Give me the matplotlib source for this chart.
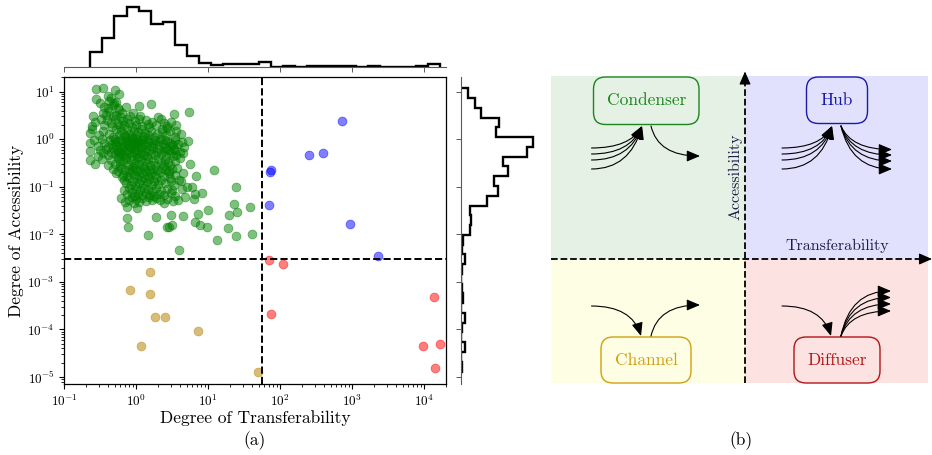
import numpy as np
import matplotlib
matplotlib.use("Agg")
import matplotlib.pyplot as plt
from matplotlib.patches import Rectangle, FancyBboxPatch, FancyArrowPatch
from matplotlib.path import Path
from matplotlib.ticker import LogLocator, NullLocator, NullFormatter

plt.rcParams["mathtext.fontset"] = "cm"
plt.rcParams["font.family"] = ["cmr10", "DejaVu Serif"]
plt.rcParams["axes.formatter.use_mathtext"] = True

# ---------------- data: (transferability, accessibility) per role ----------------
green_x = [
    0.28, 0.34, 0.51, 0.58, 0.40, 0.45,
    0.28, 0.49, 0.31, 0.36, 0.73, 1.08, 1.58, 0.42, 0.47, 0.52, 0.40, 0.55,
    0.25, 0.47, 0.63, 0.83, 1.13, 3.3, 5.4, 0.35, 0.42, 0.38, 0.57, 0.90, 2.0, 0.52, 0.62,
    0.24, 0.27, 0.32, 0.39, 0.36, 0.44, 0.46, 0.50, 0.55, 0.60, 0.65, 0.68, 0.75, 0.80, 0.88,
    0.95, 1.00, 1.10, 1.20, 1.37, 1.45, 1.50, 1.65, 1.90, 2.2, 2.4, 2.7, 3.0, 3.6, 2.65,
    0.23, 0.24, 0.30, 0.34, 0.42, 0.48, 0.52, 0.58, 0.62, 0.70, 0.74, 0.80, 0.86, 0.92, 0.98,
    1.05, 1.15, 1.22, 1.32, 1.45, 1.6, 1.75, 1.95, 2.3, 2.6, 2.9, 3.4, 4.2, 2.3, 3.6, 0.67,
    0.23, 0.26, 0.29, 0.33, 0.36, 0.40, 0.43, 0.46, 0.50, 0.53, 0.56, 0.59, 0.62, 0.65, 0.68,
    0.71, 0.74, 0.77, 0.80, 0.83, 0.86, 0.89, 0.92, 0.95, 0.98, 1.02, 1.06, 1.10, 1.15, 1.20,
    1.25, 1.32, 1.38, 1.45, 1.52, 1.60, 1.70, 1.80, 1.92, 2.05, 2.2, 2.35, 2.5, 2.7, 2.9,
    3.1, 3.4, 3.8, 4.3, 5.2, 0.5, 2.5, 3.2, 4.6,
    0.23, 0.29, 0.31, 0.35, 0.38, 0.41, 0.44, 0.47, 0.50, 0.54, 0.57, 0.60, 0.63, 0.66, 0.70,
    0.73, 0.76, 0.80, 0.84, 0.88, 0.92, 0.96, 1.00, 1.05, 1.10, 1.15, 1.20, 1.27, 1.34, 1.42,
    1.50, 1.60, 1.70, 1.80, 1.92, 2.05, 2.2, 2.4, 2.6, 2.8, 3.0, 3.3, 3.6, 4.0, 4.5,
    0.55, 2.6, 3.5, 3.25,
    0.23, 0.27, 0.33, 0.40, 0.45, 0.50, 0.55, 0.60, 0.66, 0.72, 0.78, 0.84, 0.90, 0.96, 1.03,
    1.10, 1.18, 1.26, 1.35, 1.45, 1.56, 1.68, 1.82, 2.0, 2.2, 2.5, 2.9, 3.5, 5.6,
    0.6, 2.75, 2.45, 4.1,
    0.48, 0.52, 0.56, 0.62, 0.66, 0.70, 0.74, 0.78, 0.82, 0.87, 0.92, 0.97, 1.02, 1.08, 1.14,
    1.20, 1.28, 1.36, 1.44, 1.53, 1.62, 1.72, 1.84, 1.96, 2.1, 2.25, 2.4, 2.6, 2.8, 3.1,
    3.5, 6.7, 12.0, 2.85, 3.7, 4.5,
    0.68, 0.72, 0.78, 0.84, 0.90, 0.96, 1.02, 1.09, 1.16, 1.24, 1.33, 1.42, 1.52, 1.63, 1.75,
    1.88, 2.0, 2.2, 2.5, 2.9, 3.3, 4.2, 3.0, 3.9, 0.64,
    5.1, 6.0, 24.0, 6.6, 8.3, 0.68, 0.74, 0.80, 0.86, 0.92, 0.98, 1.05, 1.12, 1.20, 1.28,
    1.36, 1.45, 1.55, 1.66, 1.78, 1.90, 2.05, 2.2, 2.4, 2.7, 3.0, 3.5, 3.1, 4.3,
    0.62, 0.70, 4.8, 6.4, 22.9, 0.78, 0.86, 0.92, 1.0, 1.1, 1.2, 1.35, 1.5, 1.65, 1.85,
    2.1, 2.4, 2.7, 3.2, 3.8,
    0.75, 1.03, 3.0, 9.9, 25.0, 38.0, 7.3, 19.5,
    0.74, 1.9, 3.1, 4.5, 6.5, 7.6,
    0.77, 2.7, 2.8, 9.7, 18.7, 1.45, 40.5,
    13.3, 24.5, 3.9,
]
green_y = [
    11.2, 11.7, 10.8, 8.8, 8.1, 7.4,
    6.9, 5.7, 5.7, 4.8, 4.8, 4.9, 5.5, 6.2, 5.2, 6.0, 4.6, 4.5,
    3.1, 3.0, 3.5, 3.1, 3.0, 3.4, 3.8, 3.6, 4.0, 3.3, 4.1, 3.6, 2.9, 3.3, 2.9,
    1.9, 2.3, 2.7, 2.5, 2.0, 2.2, 1.8, 2.6, 2.1, 1.9, 2.4, 2.0, 2.6, 2.2, 1.8,
    2.4, 2.0, 2.7, 1.9, 2.5, 2.1, 1.8, 2.3, 2.0, 2.6, 2.2, 1.9, 2.3, 2.0, 1.7,
    1.33, 1.6, 1.2, 1.5, 1.3, 1.1, 1.6, 1.25, 1.45, 1.15, 1.6, 1.3, 1.1, 1.5, 1.2,
    1.4, 1.65, 1.15, 1.35, 1.2, 1.5, 1.1, 1.3, 1.6, 1.2, 1.45, 1.1, 1.3, 1.4, 1.5, 1.3,
    0.82, 0.95, 0.72, 1.0, 0.85, 0.70, 0.95, 0.80, 1.02, 0.75, 0.90, 0.68, 0.98, 0.82, 0.72,
    0.93, 1.05, 0.78, 0.88, 0.70, 1.0, 0.80, 0.92, 0.74, 0.86, 1.0, 0.78, 0.90, 0.70, 0.95,
    0.82, 1.04, 0.74, 0.88, 0.98, 0.72, 0.85, 0.95, 0.76, 0.90, 1.0, 0.80, 0.70, 0.92, 0.84,
    0.74, 0.96, 0.80, 0.88, 0.90, 0.88, 0.95, 0.75, 0.70,
    0.57, 0.44, 0.59, 0.50, 0.62, 0.46, 0.55, 0.65, 0.48, 0.58, 0.44, 0.52, 0.63, 0.47, 0.56,
    0.43, 0.60, 0.50, 0.64, 0.45, 0.55, 0.62, 0.48, 0.58, 0.43, 0.52, 0.64, 0.47, 0.57, 0.44,
    0.60, 0.50, 0.65, 0.46, 0.55, 0.62, 0.48, 0.57, 0.44, 0.60, 0.50, 0.63, 0.46, 0.55, 0.52,
    0.55, 0.62, 0.60, 0.45,
    0.36, 0.30, 0.38, 0.28, 0.36, 0.30, 0.40, 0.27, 0.34, 0.39, 0.29, 0.36, 0.27, 0.32, 0.40,
    0.30, 0.36, 0.27, 0.33, 0.39, 0.29, 0.35, 0.28, 0.38, 0.31, 0.36, 0.28, 0.34, 0.30,
    0.33, 0.33, 0.28, 0.40,
    0.24, 0.19, 0.21, 0.25, 0.18, 0.22, 0.17, 0.24, 0.20, 0.23, 0.18, 0.25, 0.21, 0.17, 0.23,
    0.19, 0.25, 0.21, 0.17, 0.23, 0.19, 0.24, 0.18, 0.22, 0.20, 0.25, 0.17, 0.22, 0.19, 0.24,
    0.18, 0.165, 0.22, 0.21, 0.25, 0.19,
    0.14, 0.12, 0.155, 0.11, 0.135, 0.105, 0.15, 0.12, 0.14, 0.11, 0.155, 0.125, 0.145, 0.108, 0.13,
    0.15, 0.115, 0.14, 0.12, 0.15, 0.11, 0.13, 0.13, 0.14, 0.16,
    0.098, 0.098, 0.098, 0.072, 0.075, 0.085, 0.07, 0.095, 0.078, 0.065, 0.09, 0.072, 0.085, 0.066, 0.095,
    0.075, 0.088, 0.068, 0.08, 0.065, 0.092, 0.07, 0.082, 0.066, 0.09, 0.075, 0.065, 0.085, 0.09,
    0.057, 0.047, 0.06, 0.056, 0.043, 0.052, 0.06, 0.045, 0.055, 0.048, 0.058, 0.05, 0.06, 0.052, 0.058,
    0.053, 0.046, 0.055, 0.05, 0.052,
    0.038, 0.035, 0.025, 0.032, 0.030, 0.037, 0.027, 0.026,
    0.022, 0.023, 0.016, 0.024, 0.018, 0.016,
    0.0145, 0.0145, 0.0145, 0.0145, 0.0135, 0.0098, 0.0102,
    0.0076, 0.0094, 0.0046,
]

blue_x = [73.5, 72, 69, 248, 387, 718, 938, 2290]
blue_y = [0.225, 0.20, 0.042, 0.47, 0.52, 2.45, 0.0166, 0.00357]

red_x = [70, 110, 73.5, 13600, 9700, 16500, 14200]
red_y = [0.00284, 0.0024, 2.14e-4, 4.8e-4, 4.5e-5, 5.0e-5, 1.55e-5]

yellow_x = [1.53, 0.83, 1.56, 1.81, 2.5, 7.2, 1.16, 49]
yellow_y = [1.62e-3, 6.6e-4, 5.5e-4, 1.83e-4, 1.81e-4, 9.2e-5, 4.4e-5, 1.3e-5]

transfer_cut = 55
access_cut = 3e-3

# ---------------- figure ----------------
W, H = 932, 455
fig = plt.figure(figsize=(W / 100, H / 100), dpi=100)


def fx(px):
    return px / W


def fy(py):
    return 1 - py / H


ax_l, ax_r, ax_t, ax_b = 64.3, 446.0, 77.3, 384.0
ax = fig.add_axes([fx(ax_l), fy(ax_b), fx(ax_r - ax_l), (ax_b - ax_t) / H])
ax_top = fig.add_axes([fx(ax_l), fy(66.5), fx(ax_r - ax_l), 62.5 / H])
ax_side = fig.add_axes([fx(460.7), fy(ax_b), fx(76.0), (ax_b - ax_t) / H])

groups = [
    (green_x, green_y, "green", 0.5),
    (blue_x, blue_y, "blue", 0.5),
    (red_x, red_y, "red", 0.5),
    (yellow_x, yellow_y, "darkgoldenrod", 0.55),
]
for xs, ys, col, a in groups:
    ax.scatter(xs, ys, s=40, color=col, alpha=a, linewidths=0.6, edgecolors=col, zorder=2)

ax.axvline(transfer_cut, color="black", ls="--", lw=1.4, zorder=3)
ax.axhline(access_cut, color="black", ls="--", lw=1.4, zorder=3)

ax.set_xscale("log")
ax.set_yscale("log")
ax.set_xlim(0.1, 2e4)
ax.set_ylim(7.1e-6, 20)
ax.xaxis.set_major_locator(LogLocator(base=10, numticks=20))
ax.yaxis.set_major_locator(LogLocator(base=10, numticks=20))
ax.tick_params(axis="both", which="major", labelsize=9.5, length=3.5, width=0.8)
ax.tick_params(axis="both", which="minor", length=2, width=0.6)
ax.set_xlabel("Degree of Transferability", fontsize=12.5, labelpad=1)
ax.set_ylabel("Degree of Accessibility", fontsize=12.5, labelpad=2)
for s in ax.spines.values():
    s.set_linewidth(0.9)

all_x = np.array(green_x + blue_x + red_x + yellow_x, dtype=float)
all_y = np.array(green_y + blue_y + red_y + yellow_y, dtype=float)
xbins = np.logspace(np.log10(all_x.min()), np.log10(all_x.max()), 30)
ybins = np.logspace(np.log10(all_y.min()), np.log10(all_y.max()), 30)

ax_top.hist(all_x, bins=xbins, histtype="step", color="black", lw=1.7)
ax_top.set_xscale("log")
ax_top.set_xlim(ax.get_xlim())
ax_top.xaxis.set_major_locator(LogLocator(base=10, numticks=20))
ax_top.xaxis.set_minor_locator(NullLocator())
ax_top.xaxis.set_major_formatter(NullFormatter())
ax_top.set_yticks([])
for k in ("top", "left", "right"):
    ax_top.spines[k].set_visible(False)
ax_top.spines["bottom"].set_color("0.35")
ax_top.tick_params(axis="x", length=3.5, width=0.7, color="0.35")
ax_top.patch.set_alpha(0)

ax_side.hist(all_y, bins=ybins, histtype="step", color="black", lw=1.7, orientation="horizontal")
ax_side.set_yscale("log")
ax_side.set_ylim(ax.get_ylim())
ax_side.yaxis.set_major_locator(LogLocator(base=10, numticks=20))
ax_side.yaxis.set_minor_locator(NullLocator())
ax_side.yaxis.set_major_formatter(NullFormatter())
ax_side.set_xticks([])
for k in ("top", "bottom", "right"):
    ax_side.spines[k].set_visible(False)
ax_side.spines["left"].set_color("0.35")
ax_side.tick_params(axis="y", length=3.5, width=0.7, color="0.35")
ax_side.patch.set_alpha(0)

fig.text(fx(255), fy(441), "(a)", ha="center", va="center", fontsize=12.5)
fig.text(fx(741), fy(441), "(b)", ha="center", va="center", fontsize=12.5)

# ---------------- role diagram ----------------
dx0, dx1, dy0, dy1 = 550.0, 932.0, 76.0, 383.3
cx, cy = 745.0, 259.0
dg = fig.add_axes([fx(dx0), fy(dy1), fx(dx1 - dx0), (dy1 - dy0) / H])
dg.set_xlim(dx0, dx1)
dg.set_ylim(dy1, dy0)
dg.axis("off")

quad_colors = {
    "tl": "#e4f1e4", "tr": "#e1e1fd", "bl": "#fefee4", "br": "#fde2e2",
}
dg.add_patch(Rectangle((551, dy0), cx - 551, cy - dy0, color=quad_colors["tl"], lw=0))
dg.add_patch(Rectangle((cx, dy0), 928 - cx, cy - dy0, color=quad_colors["tr"], lw=0))
dg.add_patch(Rectangle((551, cy), cx - 551, dy1 - cy, color=quad_colors["bl"], lw=0))
dg.add_patch(Rectangle((cx, cy), 928 - cx, dy1 - cy, color=quad_colors["br"], lw=0))

# dashed axes with arrow tips
dg.plot([cx, cx], [dy1, 80], color="black", ls="--", lw=1.3, clip_on=False)
dg.plot([551, 924], [cy, cy], color="black", ls="--", lw=1.3, clip_on=False)
dg.annotate("", xy=(cx, 71.5), xytext=(cx, 80), annotation_clip=False,
            arrowprops=dict(arrowstyle="-|>,head_length=0.8,head_width=0.35",
                            color="black", lw=0.8, mutation_scale=10, shrinkA=0, shrinkB=0))
dg.annotate("", xy=(932, cy), xytext=(924, cy), annotation_clip=False,
            arrowprops=dict(arrowstyle="-|>,head_length=0.8,head_width=0.35",
                            color="black", lw=0.8, mutation_scale=10, shrinkA=0, shrinkB=0))

dg.text(735, 177, "Accessibility", rotation=90, ha="center", va="center",
        fontsize=11.5, color="#1c1c48")
dg.text(837, 246, "Transferability", ha="center", va="center",
        fontsize=11.5, color="#1c1c48")


def role_box(x0, y0, x1, y1, label, col):
    dg.add_patch(FancyBboxPatch((x0, y0), x1 - x0, y1 - y0,
                                boxstyle="round,pad=0,rounding_size=12",
                                fc="none", ec=col, lw=1.0, clip_on=False))
    dg.text((x0 + x1) / 2, (y0 + y1) / 2, label, ha="center", va="center",
            fontsize=12.5, color=col)


role_box(593.5, 77, 699, 124.5, "Condenser", "#1b861b")
role_box(806.5, 77, 867.5, 123.5, "Hub", "#1a1aa8")
role_box(601, 337, 691, 383, "Channel", "#d0a010")
role_box(794, 337, 880, 383, "Diffuser", "#b01515")


def flow(p0, ctrl, p1):
    path = Path([p0, ctrl, p1], [Path.MOVETO, Path.CURVE3, Path.CURVE3])
    dg.add_patch(FancyArrowPatch(path=path,
                                 arrowstyle="-|>,head_length=0.9,head_width=0.38",
                                 mutation_scale=9, color="black", lw=0.8,
                                 shrinkA=0, shrinkB=0, clip_on=False))


in_levels = [148, 154, 160, 169]
out_levels = [149.5, 155, 161, 169]
spread_levels = [291, 297.5, 304, 311]

# Condenser: many in, one out
for yy in in_levels:
    flow((591.5, yy), (630, yy), (642, 126))
flow((651, 126), (658, 156), (700, 156))

# Hub: many in, many out
for yy in in_levels:
    flow((782, yy), (821, yy), (832, 126))
for yy in out_levels:
    flow((841, 126), (851, yy), (892, yy))

# Channel: one in, one out
flow((591.5, 306), (632, 306), (641, 336))
flow((651, 336), (658, 305), (700, 305))

# Diffuser: one in, many out
flow((782, 306), (822, 306), (831, 336))
for yy in spread_levels:
    flow((841, 336), (850, yy), (891, yy))

fig.savefig("out.png", dpi=100)
